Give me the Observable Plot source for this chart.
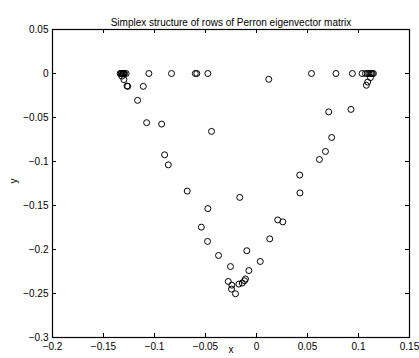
<!DOCTYPE html>
<html>
<head>
<meta charset="utf-8">
<script src="https://cdn.jsdelivr.net/npm/d3@7"></script>
<script src="https://cdn.jsdelivr.net/npm/@observablehq/plot@0.6"></script>
<style>
  html, body { margin: 0; padding: 0; background: #fff; }
</style>
</head>
<body>
<div id="chart"></div>
<script>
const title = "Simplex structure of rows of Perron eigenvector matrix";
const xLabel = "x";
const yLabel = "y";
const xTicks = [-0.2, -0.15, -0.1, -0.05, 0, 0.05, 0.1, 0.15];
const yTicks = [-0.3, -0.25, -0.2, -0.15, -0.1, -0.05, 0, 0.05];

const xs = [
  -0.1337, -0.1327, -0.1322, -0.1312, -0.1307, -0.1302, -0.1293, -0.1278,
  -0.1320, -0.1300, -0.1270, -0.1262,
  -0.1110, -0.1055, -0.0833, -0.0600, -0.0585, -0.0477,
  -0.1166, -0.1077, -0.0930, -0.0441, 0.0120,
  0.0539, 0.0779, 0.0940, 0.1035,
  0.1068, 0.1087, 0.1102, 0.1117, 0.1126, 0.1136, 0.1146,
  0.1117, 0.1090, 0.1077,
  0.0708, 0.0926, 0.0737, 0.0676, 0.0617, 0.0424, 0.0426,
  0.0208, 0.0258, 0.0130, 0.0037, -0.0095, -0.0075, -0.0164,
  -0.0901, -0.0865, -0.0679, -0.0477, -0.0541, -0.0480, -0.0372, -0.0255,
  -0.0277, -0.0242, -0.0245, -0.0206, -0.0173, -0.0140, -0.0118, -0.0108
];
const ys = [
  0, 0, 0, 0, 0, 0, 0, 0,
  -0.0030, -0.0069, -0.0142, -0.0146,
  -0.0146, 0, 0, 0, 0, 0,
  -0.0305, -0.0559, -0.0575, -0.0658, -0.0066,
  0, 0, 0, 0,
  0, 0, 0, 0, 0, 0, 0,
  -0.0047, -0.0097, -0.0134,
  -0.0436, -0.0408, -0.0727, -0.0886, -0.0977, -0.1154, -0.1357,
  -0.1664, -0.1686, -0.1879, -0.2136, -0.2014, -0.2239, -0.1408,
  -0.0924, -0.1038, -0.1336, -0.1535, -0.1746, -0.1908, -0.2068, -0.2194,
  -0.2363, -0.2405, -0.2450, -0.2503, -0.2393, -0.2381, -0.2355, -0.2335
];
const points = xs.map((x, i) => ({x, y: ys[i]}));

const W = 419, H = 358;
const mL = 52, mR = 10, mT = 29, mB = 21;
const fw = W - mL - mR, fh = H - mT - mB;
const tk = 4;
const fmt = d => String(d).replace("-", "\u2212");

const chart = Plot.plot({
  width: W,
  height: H,
  marginLeft: mL,
  marginRight: mR,
  marginTop: mT,
  marginBottom: mB,
  style: {fontFamily: "Liberation Sans, Arial, sans-serif", fontSize: "10px", background: "#fff", color: "#000"},
  x: {domain: [-0.2, 0.15], ticks: xTicks},
  y: {domain: [-0.3, 0.05], ticks: yTicks},
  marks: [
    Plot.axisX(xTicks, {tickSize: 0, tickPadding: 5, label: null, fontSize: 10, tickFormat: fmt}),
    Plot.axisY(yTicks, {tickSize: 0, tickPadding: 4, label: null, fontSize: 10, tickFormat: fmt}),
    Plot.ruleX(xTicks, {x: d => d, insetTop: fh - tk, stroke: "#000", strokeWidth: 1}),
    Plot.ruleX(xTicks, {x: d => d, insetBottom: fh - tk, stroke: "#000", strokeWidth: 1}),
    Plot.ruleY(yTicks, {y: d => d, insetRight: fw - tk, stroke: "#000", strokeWidth: 1}),
    Plot.ruleY(yTicks, {y: d => d, insetLeft: fw - tk, stroke: "#000", strokeWidth: 1}),
    Plot.frame({stroke: "#000", strokeWidth: 1.2}),
    Plot.dot(points, {x: "x", y: "y", r: 3, stroke: "#000", fill: "none", strokeWidth: 1}),
    Plot.text([title], {text: d => d, frameAnchor: "top", dy: -11, fontSize: 10}),
    Plot.text([xLabel], {text: d => d, frameAnchor: "bottom", dy: 15, fontSize: 10}),
    Plot.text([yLabel], {text: d => d, frameAnchor: "left", dx: -39, rotate: -90, fontSize: 10})
  ]
});
document.getElementById("chart").appendChild(chart);
</script>
</body>
</html>
